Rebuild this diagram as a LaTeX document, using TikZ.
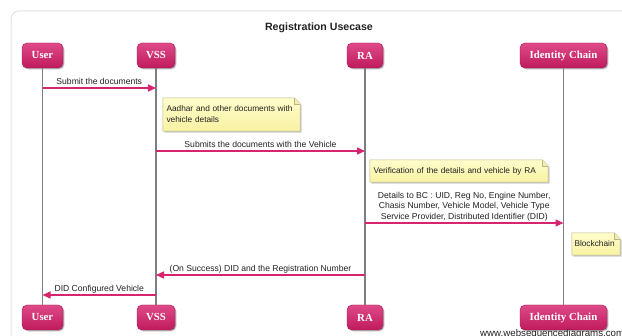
\documentclass[tikz,border=0pt]{standalone}
\usepackage{fontspec}
\setmainfont{Liberation Sans}
\newfontfamily\headfont{Liberation Serif}
\usetikzlibrary{arrows.meta,shadows,backgrounds,calc}
\definecolor{headtop}{HTML}{DE4A88}
\definecolor{headbot}{HTML}{C01A5C}
\definecolor{headdraw}{HTML}{A8124E}
\definecolor{msgcol}{HTML}{D6246E}
\definecolor{life}{HTML}{7E7E7E}
\definecolor{notetop}{HTML}{FFFDCC}
\definecolor{notebot}{HTML}{F8F2A2}
\definecolor{notedraw}{HTML}{BDB58A}
\definecolor{foldcol}{HTML}{F3ECB0}
\definecolor{framecol}{HTML}{E2E2E2}
\definecolor{txt}{HTML}{222222}
\newcommand\notefold[1]{%
 \begin{pgfonlayer}{background}
  \fill[black,opacity=0.2] ([shift={(1.5,1.5)}]#1.north west) -- ([shift={(-4.5,1.5)}]#1.north east) -- ([shift={(1.5,7.5)}]#1.north east) -- ([shift={(1.5,1.5)}]#1.south east) -- ([shift={(1.5,1.5)}]#1.south west) -- cycle;
  \shadedraw[top color=notetop,bottom color=notebot,draw=notedraw,line width=0.5pt] (#1.north west) -- ([xshift=-6pt]#1.north east) -- ([yshift=-6pt]#1.north east) -- (#1.south east) -- (#1.south west) -- cycle;
  \draw[notedraw, fill=foldcol, line width=0.5pt] ([xshift=-6pt]#1.north east) -- ([xshift=-6pt,yshift=-6pt]#1.north east) -- ([yshift=-6pt]#1.north east);
 \end{pgfonlayer}}
\begin{document}
\begin{tikzpicture}[x=1pt,y=-1pt,
  head/.style={rounded corners=5pt, top color=headtop, bottom color=headbot, draw=headdraw, line width=0.4pt,
    minimum height=25pt, text=white, font=\headfont\bfseries\fontsize{10.8}{12}\selectfont, inner xsep=0pt,
    drop shadow={shadow xshift=1.3pt, shadow yshift=-1.3pt, opacity=0.3, fill=black}},
  lifeline/.style={draw=life, line width=1.1pt},
  msg/.style={draw=msgcol, line width=1.4pt, -{Triangle[length=8pt,width=7pt]}},
  lbl/.style={font=\fontsize{8.6}{10.5}\selectfont, text=txt, inner sep=0pt},
  notebody/.style={font=\fontsize{8.3}{11}\selectfont, text=txt, align=left, inner xsep=3.5pt, inner ysep=0pt, anchor=center}]
\begin{pgfonlayer}{background}
\fill[white] (0,0) rectangle (622,336);
\end{pgfonlayer}
\useasboundingbox (0,0) rectangle (622,336);
\clip (0,0) rectangle (622,336);
\draw[framecol, line width=1pt, rounded corners=8pt] (11,11) rectangle (650,360);
\node[font=\bfseries\fontsize{10.6}{12}\selectfont, text=txt] (title) at (319,28) {Registration Usecase};
% heads
\node[head, minimum width=41pt] (u1) at (42.5,55.5) {User};
\node[head, minimum width=38pt] (v1) at (156,55.5) {VSS};
\node[head, minimum width=36pt] (r1) at (365,55.5) {RA};
\node[head, minimum width=87pt] (i1) at (563.5,55.5) {Identity Chain};
\node[head, minimum width=41pt] (u2) at (42.5,317.5) {User};
\node[head, minimum width=38pt] (v2) at (156,317.5) {VSS};
\node[head, minimum width=36pt] (r2) at (365,317.5) {RA};
\node[head, minimum width=87pt] (i2) at (563.5,317.5) {Identity Chain};
% lifelines
\draw[lifeline] (u1.south) -- (u2.north);
\draw[lifeline] (v1.south) -- (v2.north);
\draw[lifeline] (r1.south) -- (r2.north);
\draw[lifeline] (i1.south) -- (i2.north);
% message end points
\coordinate (m1a) at (u1.south |- 0,88);
\coordinate (m1b) at (v1.south |- 0,88);
\coordinate (m2a) at (v1.south |- 0,151);
\coordinate (m2b) at (r1.south |- 0,151);
\coordinate (m3a) at (r1.south |- 0,223);
\coordinate (m3b) at (i1.south |- 0,223);
\coordinate (m4a) at (r1.south |- 0,275);
\coordinate (m4b) at (v1.south |- 0,275);
\coordinate (m5a) at (v1.south |- 0,295);
\coordinate (m5b) at (u1.south |- 0,295);
% messages
\draw[msg] (m1a) -- node[lbl, anchor=base, yshift=3pt] (l1) {Submit the documents} (m1b);
\draw[msg] (m2a) -- node[lbl, anchor=base, yshift=3pt] (l2) {Submits the documents with the Vehicle} (m2b);
\draw[msg] (m3a) -- node[lbl, align=center, anchor=south, yshift=1.2pt] (l3) {Details to BC : UID, Reg No, Engine Number,\\ Chasis Number, Vehicle Model, Vehicle Type\\ Service Provider, Distributed Identifier (DID)} (m3b);
\draw[msg] (m4a) -- node[lbl, anchor=base, yshift=3pt] (l4) {(On Success) DID and the Registration Number} (m4b);
\draw[msg] (m5a) -- node[lbl, anchor=base, yshift=3pt] (l5) {DID Configured Vehicle} (m5b);
% notes
\node[notebody, text width=130pt, minimum height=33pt] (n1) at (231.5,114.5) {Aadhar and other documents with\\vehicle details};
\notefold{n1}
\node[notebody, text width=171pt, minimum height=22pt] (n2) at (459,171) {Verification of the details and vehicle by RA};
\notefold{n2}
\node[notebody, text width=43pt, inner xsep=2.5pt, minimum height=22pt] (n3) at (596,244) {Blockchain};
\notefold{n3}
% watermark
\node[anchor=base west, font=\fontsize{9.7}{11}\selectfont, text=txt, inner sep=0pt] (wm) at (480,336.5) {www.websequencediagrams.com};
\end{tikzpicture}
\end{document}
